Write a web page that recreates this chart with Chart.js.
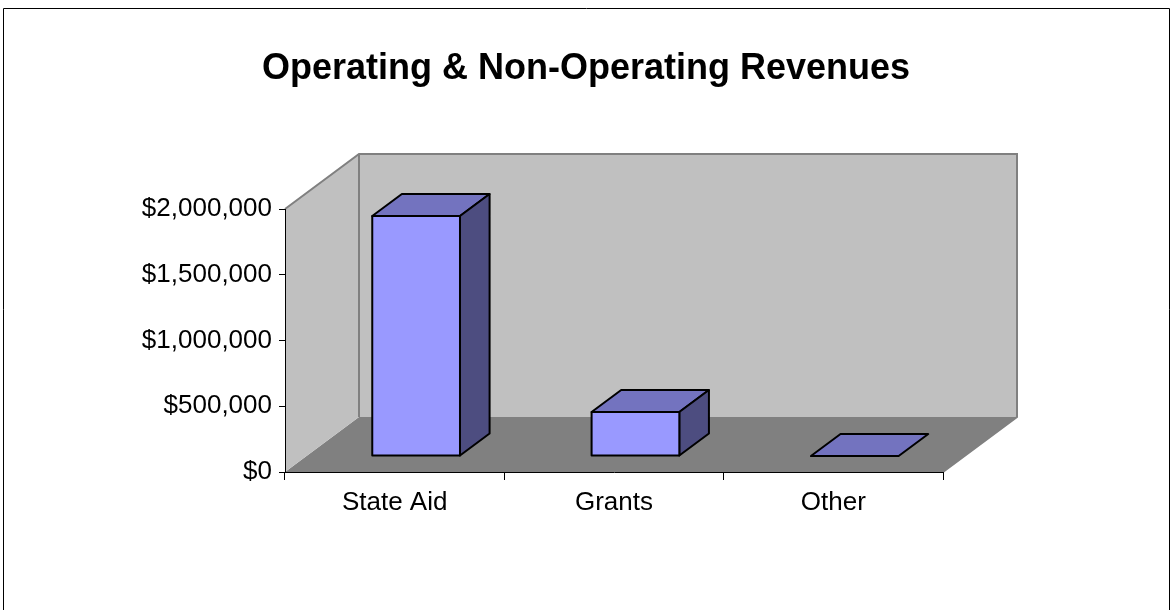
<!DOCTYPE html>
<html>
<head>
<meta charset="utf-8">
<script src="https://cdn.jsdelivr.net/npm/chart.js@4.4.1/dist/chart.umd.min.js"></script>
<style>
  html, body { margin: 0; padding: 0; background: #fff; }
  #wrap { width: 1172px; height: 610px; }
</style>
</head>
<body>
<div id="wrap"><canvas id="revChart" width="1172" height="610"></canvas></div>
<script>
// data
const categories = ['State Aid', 'Grants', 'Other'];
const revenues = [1825000, 335000, 0];
const yTicks = [0, 500000, 1000000, 1500000, 2000000];
const chartTitle = 'Operating & Non-Operating Revenues';

// 3D look (oblique projection, Excel style)
const depth = { dx: 74, dy: -55 };
const barFront = 0.29, barBack = 0.69;
const FONT = '"Liberation Sans", Arial, sans-serif';

function poly(ctx, pts) {
    ctx.beginPath();
    ctx.moveTo(pts[0][0], pts[0][1]);
    for (let i = 1; i < pts.length; i++) ctx.lineTo(pts[i][0], pts[i][1]);
    ctx.closePath();
}

const walls3d = {
    id: 'walls3d',
    beforeDraw(chart) {
        const { ctx, chartArea: a } = chart;
        const dx = depth.dx, dy = depth.dy;
        ctx.save();
        // floor
        ctx.fillStyle = '#808080';
        poly(ctx, [[a.left, a.bottom], [a.left + dx, a.bottom + dy], [a.right + dx, a.bottom + dy], [a.right, a.bottom]]);
        ctx.fill();
        // side wall + back wall
        ctx.fillStyle = '#c0c0c0';
        poly(ctx, [[a.left, a.bottom], [a.left, a.top], [a.left + dx, a.top + dy], [a.left + dx, a.bottom + dy]]);
        ctx.fill();
        ctx.fillRect(a.left + dx, a.top + dy, a.right - a.left, a.bottom - a.top);
        // wall edges
        ctx.strokeStyle = '#808080';
        ctx.lineWidth = 2;
        ctx.beginPath();
        ctx.moveTo(a.left, a.top);
        ctx.lineTo(a.left + dx, a.top + dy);
        ctx.lineTo(a.right + dx, a.top + dy);
        ctx.lineTo(a.right + dx, a.bottom + dy);
        ctx.lineTo(a.right, a.bottom);
        ctx.moveTo(a.left + dx, a.top + dy);
        ctx.lineTo(a.left + dx, a.bottom + dy);
        ctx.stroke();
        // title
        ctx.fillStyle = '#000';
        ctx.font = 'bold 36px ' + FONT;
        ctx.textAlign = 'center';
        ctx.textBaseline = 'middle';
        ctx.fillText(chartTitle, 586, 69);
        ctx.restore();
    },
    afterDatasetsDraw(chart) {
        const { ctx } = chart;
        const meta = chart.getDatasetMeta(0);
        const fx = depth.dx * barFront, fy = depth.dy * barFront;
        const bx = depth.dx * (barBack - barFront), by = depth.dy * (barBack - barFront);
        ctx.save();
        ctx.strokeStyle = '#000';
        ctx.lineWidth = 2;
        ctx.lineJoin = 'round';
        meta.data.forEach(el => {
            const p = el.getProps(['x', 'y', 'base', 'width'], true);
            const L = p.x - p.width / 2 + fx, R = p.x + p.width / 2 + fx;
            const T = p.y + fy, B = p.base + fy;
            // top face
            ctx.fillStyle = '#7373bf';
            poly(ctx, [[L, T], [R, T], [R + bx, T + by], [L + bx, T + by]]);
            ctx.fill(); ctx.stroke();
            if (B - T > 0.5) {
                // side face
                ctx.fillStyle = '#4d4d80';
                poly(ctx, [[R, T], [R + bx, T + by], [R + bx, B + by], [R, B]]);
                ctx.fill(); ctx.stroke();
                // front face
                ctx.fillStyle = '#9999ff';
                poly(ctx, [[L, T], [R, T], [R, B], [L, B]]);
                ctx.fill(); ctx.stroke();
            }
        });
        ctx.restore();
    },
    afterDraw(chart) {
        const { ctx } = chart;
        ctx.save();
        ctx.strokeStyle = '#000';
        ctx.lineWidth = 1;
        ctx.beginPath();
        ctx.moveTo(3.5, 610);
        ctx.lineTo(3.5, 8.5);
        ctx.lineTo(1169.5, 8.5);
        ctx.lineTo(1169.5, 610);
        ctx.stroke();
        ctx.restore();
    }
};

const ctx = document.getElementById('revChart').getContext('2d');
new Chart(ctx, {
    type: 'bar',
    data: {
        labels: categories,
        datasets: [{
            label: 'Revenues',
            data: revenues,
            backgroundColor: 'rgba(0,0,0,0)',
            borderWidth: 0,
            barPercentage: 0.4,
            categoryPercentage: 1.0
        }]
    },
    options: {
        responsive: false,
        animation: false,
        events: [],
        layout: { padding: { top: 209, right: 229, left: 0, bottom: 0 } },
        plugins: {
            legend: { display: false },
            title: { display: false },
            tooltip: { enabled: false }
        },
        scales: {
            x: {
                offset: true,
                grid: { offset: true, drawOnChartArea: false, drawTicks: true, tickLength: 8, color: '#000', lineWidth: 1 },
                border: { display: true, color: '#000', width: 1 },
                ticks: { color: '#000', padding: 7, font: { family: FONT, size: 26 }, maxRotation: 0 },
                afterFit: s => { s.height = 138; }
            },
            y: {
                min: yTicks[0],
                max: yTicks[yTicks.length - 1],
                grid: { drawOnChartArea: false, drawTicks: true, tickLength: 6, color: '#000', lineWidth: 1 },
                border: { display: true, color: '#000', width: 1 },
                ticks: {
                    stepSize: yTicks[1] - yTicks[0],
                    color: '#000',
                    padding: 7,
                    font: { family: FONT, size: 26 },
                    callback: v => '$' + Number(v).toLocaleString('en-US')
                },
                afterFit: s => { s.width = 285; }
            }
        }
    },
    plugins: [walls3d]
});
</script>
</body>
</html>
